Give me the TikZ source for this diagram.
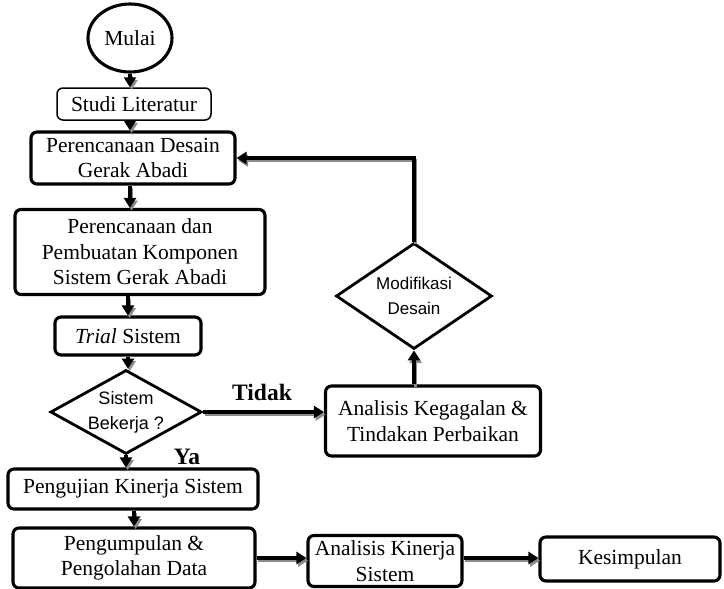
\documentclass[tikz,border=0pt]{standalone}
\usepackage{fontspec}
\setmainfont{Liberation Serif}
\newfontfamily\arialfont{Liberation Sans}
\usetikzlibrary{shapes.geometric,arrows.meta}
\definecolor{shadegray}{HTML}{8C8C8C}
\tikzset{
  flowbox/.style={draw, line width=3.1pt, rounded corners=6pt, align=center,
    inner sep=2pt, font=\fontsize{21.5}{25.5}\selectfont},
  thinbox/.style={flowbox, line width=1.5pt},
  decision/.style={diamond, draw, line width=2.8pt, inner sep=0pt, align=center,
    font=\arialfont\fontsize{18}{25}\selectfont},
  flowarrow/.style={line width=3.4pt, -{Triangle[length=10pt,width=12pt]},
    preaction={draw=shadegray, line width=2.6pt, transform canvas={shift={(1.6pt,-2.6pt)}}}},
  answer/.style={font=\bfseries\fontsize{23.5}{27}\selectfont}
}

\begin{document}
\begin{tikzpicture}[x=1pt,y=-1pt]
  \useasboundingbox (0,0) rectangle (724,589);

  \node[ellipse, draw, line width=3.1pt, minimum width=84pt, minimum height=68pt,
    inner sep=0pt, font=\fontsize{21.5}{25}\selectfont] (mulai) at (130,38) {Mulai};
  \node[thinbox, minimum width=154pt, minimum height=32pt] (studi) at (134,104) {Studi Literatur};
  \node[flowbox, minimum width=204pt, minimum height=52pt] (desain) at (133,158)
    {Perencanaan Desain\\Gerak Abadi};
  \node[flowbox, minimum width=250pt, minimum height=85pt] (komponen) at (140,252)
    {Perencanaan dan\\Pembuatan Komponen\\Sistem Gerak Abadi};
  \node[flowbox, minimum width=146pt, minimum height=38pt] (trial) at (128,336)
    {\textit{Trial} Sistem};
  \node[decision, minimum width=145pt, minimum height=81pt, shape aspect=1.8] (bekerja) at (126,412)
    {Sistem\\Bekerja ?};
  \node[flowbox, minimum width=215pt, minimum height=70pt] (gagal) at (433,421)
    {Analisis Kegagalan \&\\Tindakan Perbaikan};
  \node[decision, minimum width=156pt, minimum height=106pt, shape aspect=1.47,
    font=\arialfont\fontsize{17}{25}\selectfont] (modif) at (414,296)
    {Modifikasi\\Desain};
  \node[flowbox, minimum width=250pt, minimum height=40pt] (uji) at (133,489)
    {Pengujian Kinerja Sistem};
  \node[flowbox, minimum width=242pt, minimum height=60pt] (olah) at (134,558)
    {Pengumpulan \&\\Pengolahan Data};
  \node[flowbox, minimum width=154pt, minimum height=51pt] (kinerja) at (385,561)
    {Analisis Kinerja\\Sistem};
  \node[flowbox, minimum width=180pt, minimum height=44pt] (simpul) at (630,559)
    {Kesimpulan};

  \node[answer] (tidak) at (262,392) {Tidak};
  \node[answer] (ya) at (187,457) {Ya};

  \draw[flowarrow] (mulai) -- (studi.north -| mulai.south);
  \draw[flowarrow] (studi.south -| mulai.south) -- (desain.north -| mulai.south);
  \draw[flowarrow] (desain.south -| mulai.south) -- (komponen.north -| mulai.south);
  \draw[flowarrow] (komponen.south -| trial.north) -- (trial);
  \draw[flowarrow] (trial) -- (bekerja.north -| trial.south);
  \draw[flowarrow] (bekerja.east) -- (gagal.west |- bekerja.east);
  \draw[flowarrow] (bekerja) -- (uji.north -| bekerja.south);
  \draw[flowarrow] (modif.south |- gagal.north) -- (modif.south);
  \draw[flowarrow] (modif.north) |- (desain.east);
  \draw[flowarrow] (uji.south -| olah.north) -- (olah);
  \draw[flowarrow] (olah.east) -- (kinerja.west |- olah.east);
  \draw[flowarrow] (kinerja.east |- olah.east) -- (simpul.west |- olah.east);
\end{tikzpicture}
\end{document}
